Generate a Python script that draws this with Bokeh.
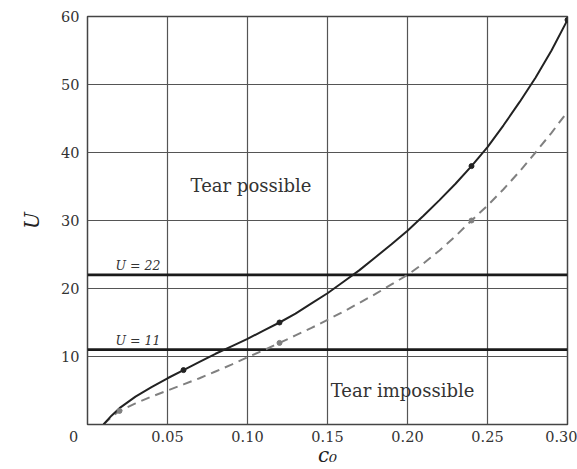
from bokeh.plotting import figure
from bokeh.models import Label, FixedTicker, Range1d
from bokeh.embed import file_html
from bokeh.resources import INLINE

# Data
c_solid = [0.010, 0.015, 0.02, 0.03, 0.04, 0.05, 0.06, 0.07, 0.08, 0.09, 0.10, 0.11, 0.12, 0.13, 0.14,
           0.15, 0.16, 0.17, 0.18, 0.19, 0.20, 0.21, 0.22, 0.23, 0.24, 0.25, 0.26, 0.27, 0.28, 0.29, 0.30]
u_solid = [0.0, 1.3, 2.4, 4.1, 5.5, 6.8, 8.0, 9.2, 10.4, 11.5, 12.6, 13.8, 15.0, 16.3, 17.8,
           19.3, 21.0, 22.7, 24.6, 26.5, 28.5, 30.7, 33.0, 35.4, 38.0, 40.8, 44.0, 47.4, 51.0, 55.0, 59.5]
c_dash = [0.010, 0.015, 0.02, 0.03, 0.04, 0.05, 0.06, 0.07, 0.08, 0.09, 0.10, 0.11, 0.12, 0.13, 0.14,
          0.15, 0.16, 0.17, 0.18, 0.19, 0.20, 0.21, 0.22, 0.23, 0.24, 0.25, 0.26, 0.27, 0.28, 0.29, 0.30]
u_dash = [0.0, 1.1, 2.0, 3.1, 4.1, 5.0, 5.9, 6.8, 7.8, 8.8, 9.9, 10.9, 12.0, 13.1, 14.2,
          15.4, 16.6, 17.9, 19.2, 20.6, 22.0, 23.7, 25.6, 27.7, 30.0, 32.2, 34.6, 37.2, 40.0, 42.9, 46.0]
c_solid_marks = [0.06, 0.12, 0.24, 0.30]
u_solid_marks = [8.0, 15.0, 38.0, 59.5]
c_dash_marks = [0.02, 0.12, 0.24]
u_dash_marks = [2.0, 12.0, 30.0]
thresholds = [22, 11]
threshold_labels = ["U = 22", "U = 11"]
x_ticks = [0, 0.05, 0.10, 0.15, 0.20, 0.25, 0.30]
x_tick_labels = ["0" + "\u00a0" * 6, "0.05", "0.10", "0.15", "0.20", "0.25", "0.30"]
y_ticks = [0, 10, 20, 30, 40, 50, 60]

SERIF = "DejaVu Serif"

p = figure(width=577, height=469, output_backend="svg", toolbar_location=None,
           x_range=Range1d(0, 0.30), y_range=Range1d(0, 60),
           min_border_left=87, min_border_right=10, min_border_top=16, min_border_bottom=44)
p.background_fill_color = "white"
p.border_fill_color = "white"
p.outline_line_color = "#444444"
p.outline_line_width = 1.5

for ax in (p.xaxis[0], p.yaxis[0]):
    ax.axis_line_color = None
    ax.major_tick_line_color = None
    ax.minor_tick_line_color = None
    ax.major_tick_out = 0
    ax.major_tick_in = 0
    ax.minor_tick_out = 0
    ax.minor_tick_in = 0
    ax.major_label_text_font = SERIF
    ax.major_label_text_font_size = "14.5px"
    ax.major_label_text_color = "#333333"
    ax.axis_label_text_font = SERIF
    ax.axis_label_text_font_style = "italic"
    ax.axis_label_text_color = "#222222"
    ax.axis_label_text_font_size = "20px"

p.xaxis.ticker = FixedTicker(ticks=x_ticks)
p.xaxis.major_label_overrides = {t: l for t, l in zip(x_ticks, x_tick_labels)}
p.yaxis.ticker = FixedTicker(ticks=y_ticks)
p.yaxis.major_label_overrides = {0: ""}
p.xaxis.axis_label = "c₀"
p.yaxis.axis_label = "U"
p.xaxis.major_label_standoff = 4
p.xaxis.axis_label_standoff = -5
p.yaxis.major_label_standoff = 8
p.yaxis.axis_label_standoff = 14

p.xgrid.ticker = FixedTicker(ticks=x_ticks)
p.ygrid.ticker = FixedTicker(ticks=y_ticks)
for g in (p.xgrid[0], p.ygrid[0]):
    g.grid_line_color = "#555555"
    g.grid_line_width = 1.2

# Threshold lines
for t, lab in zip(thresholds, threshold_labels):
    p.line([0, 0.30], [t, t], line_color="#1a1a1a", line_width=2.8)
    p.add_layout(Label(x=0.0175, y=t, y_offset=9, text=lab, text_font=SERIF,
                       text_baseline="middle",
                       text_font_size="12.5px", text_font_style="italic", text_color="#333333"))

p.line(c_dash, u_dash, line_color="#808080", line_width=2, line_dash="9 6")
p.line(c_solid, u_solid, line_color="#222222", line_width=2)
p.scatter(c_solid_marks, u_solid_marks, size=5, color="#222222")
p.scatter(c_dash_marks, u_dash_marks, size=5, color="#808080")

p.add_layout(Label(x=0.0644, y=35.2, text="Tear possible", text_font=SERIF, text_baseline="middle",
                   text_font_size="18px", text_color="#333333"))
p.add_layout(Label(x=0.152, y=5.0, text="Tear impossible", text_font=SERIF, text_baseline="middle",
                   text_font_size="18px", text_color="#333333"))

open("out.html", "w").write(file_html(p, INLINE))
